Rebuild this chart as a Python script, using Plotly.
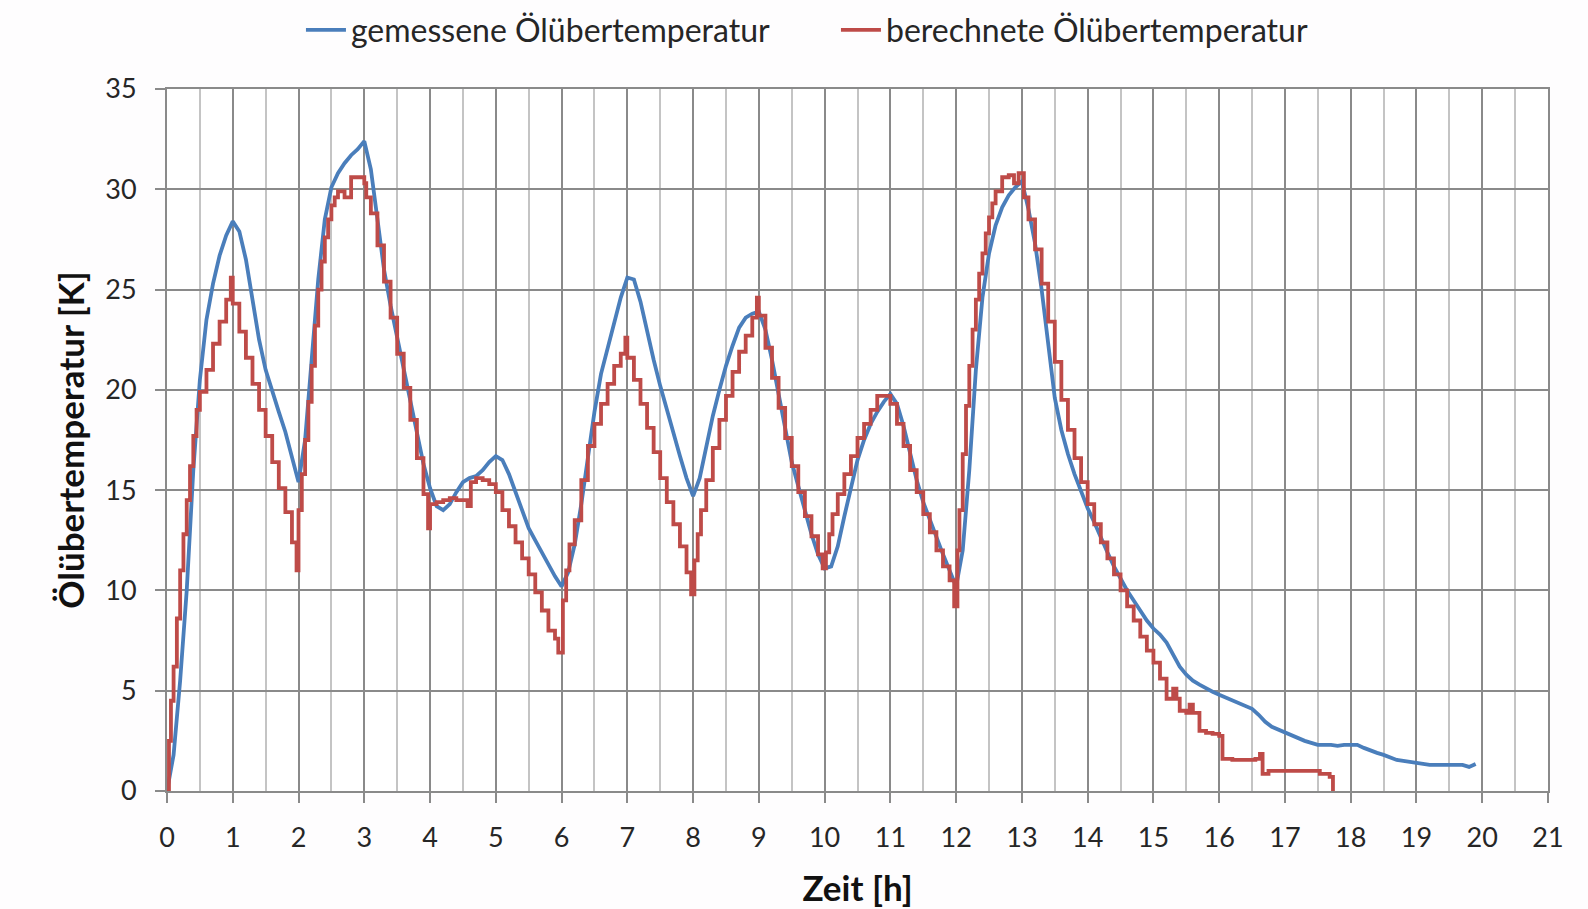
import numpy as np
import plotly.graph_objects as go

# Measured oil temperature rise (sampled every 0.1 h)
measured_k = [
    0.0, 1.8, 5.5, 10.0, 16.0, 20.5, 23.5, 25.3, 26.7, 27.7,
    28.4, 27.9, 26.5, 24.5, 22.5, 21.0, 19.9, 18.9, 17.9, 16.6,
    15.4, 17.5, 21.5, 25.5, 28.5, 30.1, 30.8, 31.3, 31.7, 32.0,
    32.4, 31.0, 28.5, 26.0, 24.2, 22.6, 21.0, 19.3, 17.8, 16.3,
    15.1, 14.2, 14.0, 14.3, 14.9, 15.4, 15.6, 15.7, 16.0, 16.4,
    16.7, 16.5, 15.8, 14.9, 13.9, 13.1, 12.5, 11.9, 11.3, 10.7,
    10.2, 10.9, 12.3, 14.3, 16.6, 18.9, 20.8, 22.1, 23.3, 24.6,
    25.6, 25.5, 24.4, 22.9, 21.5, 20.2, 19.0, 17.8, 16.7, 15.6,
    14.7, 15.6, 17.2, 18.7, 20.0, 21.2, 22.2, 23.1, 23.6, 23.8,
    23.9, 23.0, 21.5, 19.8, 18.0, 16.4, 15.2, 14.0, 12.8, 11.8,
    11.1, 11.2, 12.2, 13.7, 15.2, 16.5, 17.5, 18.3, 18.9, 19.4,
    19.8, 19.3, 18.2, 16.8, 15.5, 14.4, 13.5, 12.6, 11.8, 11.0,
    10.2, 12.0, 16.0, 21.0, 24.6, 26.8, 28.2, 29.1, 29.7, 30.1,
    30.4, 29.0, 27.3, 25.0, 22.3, 19.6, 18.0, 16.8, 15.8, 14.9,
    14.1, 13.4, 12.6, 11.9, 11.2, 10.6, 10.0, 9.5, 9.0, 8.5,
    8.1, 7.8, 7.4, 6.8, 6.2, 5.8, 5.5, 5.3, 5.1, 4.95,
    4.8, 4.65, 4.55, 4.4, 4.25, 4.1, 3.8, 3.45, 3.2, 3.05,
    2.95, 2.8, 2.6, 2.5, 2.4, 2.3, 2.3, 2.3, 2.25, 2.3,
    2.3, 2.3, 2.15, 2.0, 1.9, 1.8, 1.65, 1.55, 1.5, 1.45,
    1.4, 1.35, 1.3, 1.3, 1.3, 1.3, 1.3, 1.3, 1.2, 1.35,
]
measured_h = np.arange(len(measured_k)) * 0.1

# Calculated oil temperature rise (step values, held until the next time)
calc_h = [
    0.00, 0.03, 0.06, 0.10, 0.15, 0.20, 0.25, 0.30, 0.35, 0.40, 0.45, 0.50,
    0.60, 0.70, 0.80, 0.90, 0.97, 1.00, 1.10, 1.20, 1.30, 1.40, 1.50, 1.60,
    1.70, 1.80, 1.90, 1.97, 2.00, 2.05, 2.10, 2.15, 2.20, 2.25, 2.30, 2.35,
    2.40, 2.45, 2.50, 2.55, 2.60, 2.70, 2.80, 2.90, 3.00, 3.03, 3.10, 3.20,
    3.30, 3.40, 3.50, 3.60, 3.70, 3.80, 3.90, 3.97, 4.00, 4.10, 4.20, 4.30,
    4.40, 4.50, 4.57, 4.62, 4.70, 4.80, 4.90, 5.00, 5.10, 5.20, 5.30, 5.40,
    5.50, 5.60, 5.70, 5.80, 5.90, 5.95, 6.02, 6.07, 6.12, 6.20, 6.30, 6.40,
    6.50, 6.60, 6.70, 6.80, 6.90, 6.97, 7.00, 7.10, 7.20, 7.30, 7.40, 7.50,
    7.60, 7.70, 7.80, 7.90, 7.97, 8.02, 8.07, 8.12, 8.20, 8.30, 8.40, 8.50,
    8.60, 8.70, 8.80, 8.90, 8.97, 9.00, 9.10, 9.20, 9.30, 9.40, 9.50, 9.60,
    9.70, 9.80, 9.90, 9.97, 10.02, 10.07, 10.12, 10.20, 10.30, 10.40, 10.50, 10.60,
    10.70, 10.80, 10.90, 11.00, 11.10, 11.20, 11.30, 11.40, 11.50, 11.60, 11.70, 11.80,
    11.90, 11.97, 12.02, 12.05, 12.10, 12.15, 12.20, 12.25, 12.30, 12.35, 12.40, 12.45,
    12.50, 12.55, 12.60, 12.70, 12.80, 12.88, 12.95, 13.03, 13.10, 13.20, 13.30, 13.40,
    13.50, 13.60, 13.70, 13.80, 13.90, 14.00, 14.10, 14.20, 14.30, 14.40, 14.50, 14.60,
    14.70, 14.80, 14.90, 15.00, 15.10, 15.20, 15.30, 15.35, 15.40, 15.50, 15.55, 15.60,
    15.70, 15.80, 15.90, 16.00, 16.05, 16.20, 16.40, 16.55, 16.62, 16.66, 16.75, 17.00,
    17.30, 17.53, 17.68, 17.73,
]
calc_k = [
    0.0, 2.5, 4.5, 6.2, 8.6, 11.0, 12.8, 14.5, 16.2, 17.7, 19.0, 19.9,
    21.0, 22.3, 23.4, 24.5, 25.6, 24.3, 22.9, 21.6, 20.3, 19.0, 17.7, 16.4,
    15.1, 13.9, 12.4, 11.0, 14.0, 15.8, 17.5, 19.4, 21.2, 23.2, 25.0, 26.4,
    27.6, 28.5, 29.2, 29.6, 29.9, 29.6, 30.6, 30.6, 30.3, 29.6, 28.8, 27.2,
    25.4, 23.6, 21.8, 20.1, 18.5, 16.6, 14.8, 13.1, 14.3, 14.4, 14.5, 14.6,
    14.5, 14.5, 14.2, 15.4, 15.6, 15.5, 15.3, 14.9, 14.0, 13.2, 12.4, 11.6,
    10.8, 9.9, 9.0, 8.0, 7.6, 6.9, 9.5, 11.0, 12.3, 13.5, 15.5, 17.2,
    18.3, 19.3, 20.3, 21.2, 21.8, 22.6, 21.6, 20.5, 19.3, 18.1, 16.9, 15.6,
    14.4, 13.3, 12.2, 10.9, 9.8, 11.5, 12.8, 14.0, 15.5, 17.1, 18.5, 19.7,
    20.9, 21.9, 22.7, 23.6, 24.6, 23.7, 22.1, 20.6, 19.1, 17.6, 16.2, 14.9,
    13.7, 12.7, 11.8, 11.1, 11.9, 12.8, 13.8, 14.8, 15.8, 16.7, 17.6, 18.3,
    19.0, 19.7, 19.7, 19.3, 18.3, 17.2, 16.0, 14.9, 13.8, 12.9, 12.0, 11.2,
    10.5, 9.2, 12.0, 14.0, 16.8, 19.2, 21.2, 23.0, 24.5, 25.8, 26.8, 27.8,
    28.6, 29.3, 29.9, 30.6, 30.7, 30.3, 30.8, 29.6, 28.5, 27.0, 25.3, 23.4,
    21.4, 19.5, 18.0, 16.6, 15.4, 14.3, 13.3, 12.4, 11.6, 10.8, 10.0, 9.2,
    8.5, 7.7, 7.0, 6.4, 5.6, 4.6, 5.1, 4.6, 4.0, 3.9, 4.3, 3.9,
    3.0, 2.9, 2.85, 2.75, 1.6, 1.55, 1.55, 1.6, 1.85, 0.85, 1.0, 1.0,
    1.0, 0.85, 0.7, 0.0,
]

x_ticks = list(range(0, 22))
y_ticks = list(range(0, 36, 5))

FONT = "Lato, 'Open Sans', sans-serif"
BLUE = "#4a7ebb"
RED = "#be4b48"
MAJOR = "#8a8a8a"
MINOR = "#c4c4c4"

fig = go.Figure()
fig.add_trace(go.Scatter(
    x=measured_h, y=measured_k, mode="lines",
    name="gemessene Ölübertemperatur",
    line=dict(color=BLUE, width=3.8),
))
fig.add_trace(go.Scatter(
    x=calc_h, y=calc_k, mode="lines",
    name="berechnete Ölübertemperatur",
    line=dict(color=RED, width=3.8, shape="hv"),
))

fig.update_layout(
    width=1588, height=909,
    margin=dict(l=167, r=40, t=89, b=118, autoexpand=False),
    paper_bgcolor="#fefdfe",
    plot_bgcolor="#ffffff",
    font=dict(family=FONT, size=27, color="#262626"),
    showlegend=True,
    legend=dict(
        orientation="h",
        x=0.097, xanchor="left",
        y=1.084, yanchor="middle",
        font=dict(family=FONT, size=32, color="#262626"),
        bgcolor="rgba(0,0,0,0)",
        entrywidth=480,
        itemwidth=40,
    ),
    xaxis=dict(
        range=[0, 21],
        tickvals=x_ticks,
        ticktext=[str(v) for v in x_ticks],
        showgrid=True, gridcolor=MAJOR, gridwidth=2,
        minor=dict(dtick=0.5, showgrid=True, gridcolor=MINOR, gridwidth=2),
        ticks="outside", ticklen=10, tickwidth=2, tickcolor=MAJOR,
        ticklabelstandoff=12,
        showline=True, linecolor=MAJOR, linewidth=2, mirror=True,
        zeroline=False,
        tickfont=dict(family=FONT, size=27, color="#262626"),
        title=dict(text="<b>Zeit [h]</b>", standoff=24,
                   font=dict(family=FONT, size=35, color="#111111")),
    ),
    yaxis=dict(
        range=[0, 35],
        tickvals=y_ticks,
        showgrid=True, gridcolor=MAJOR, gridwidth=2,
        ticks="outside", ticklen=10, tickwidth=2, tickcolor=MAJOR,
        ticklabelstandoff=13,
        showline=True, linecolor=MAJOR, linewidth=2, mirror=True,
        zeroline=False,
        tickfont=dict(family=FONT, size=27, color="#262626"),
        title=dict(text="<b>Ölübertemperatur [K]</b>", standoff=10,
                   font=dict(family=FONT, size=35, color="#111111")),
    ),
)

fig.write_html("out.html")
